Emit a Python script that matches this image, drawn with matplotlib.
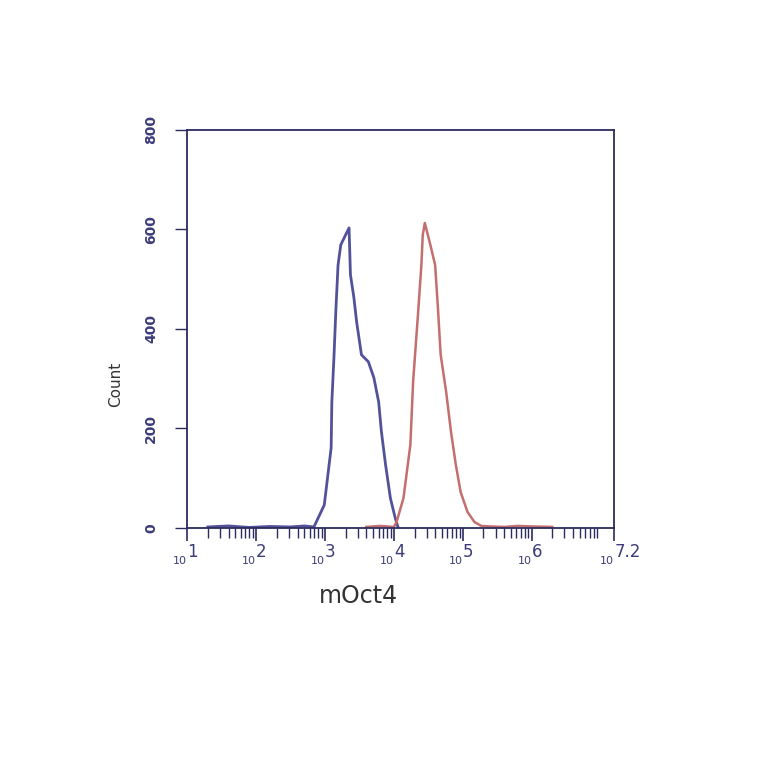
import numpy as np
import matplotlib.pyplot as plt
from matplotlib.ticker import LogLocator, NullFormatter
from matplotlib.transforms import blended_transform_factory

# histogram outlines (x in log10 units, y = count)
blue_logx = [1.3, 1.6, 1.9, 2.2, 2.5, 2.7, 2.84, 2.99, 3.09, 3.10, 3.13, 3.16, 3.19,
             3.23, 3.30, 3.35, 3.37, 3.42, 3.46, 3.53, 3.63, 3.71, 3.78, 3.82,
             3.88, 3.95, 4.02, 4.06]
blue_count = [2, 4, 1, 3, 2, 4, 2, 46, 161, 253, 341, 442, 528,
              569, 589, 603, 509, 463, 414, 348, 334, 302, 253, 193,
              127, 60, 20, 2]

red_logx = [3.6, 3.8, 4.0, 4.04, 4.14, 4.24, 4.28, 4.35, 4.40, 4.42, 4.45, 4.53,
            4.60, 4.64, 4.68, 4.76, 4.83, 4.90, 4.97, 5.07, 5.17, 5.27, 5.4,
            5.6, 5.8, 6.0, 6.3]
red_count = [2, 4, 2, 12, 60, 167, 294, 428, 528, 589, 613, 569,
             528, 442, 348, 273, 193, 127, 72, 32, 12, 4, 3,
             2, 4, 3, 2]

y_ticks = [0, 200, 400, 600, 800]
x_tick_pow = [1, 2, 3, 4, 5, 6, 7.2]
x_tick_exp = ["1", "2", "3", "4", "5", "6", "7.2"]

axis_col = "#2b2b5e"
lab_col = "#3c3c7a"

fig = plt.figure(figsize=(7.64, 7.64), dpi=100)
ax = fig.add_axes([0.245, 0.309, 0.559, 0.521])

ax.plot(10 ** np.array(blue_logx), blue_count, color="#52529a", lw=2.0)
ax.plot(10 ** np.array(red_logx), red_count, color="#c46e6e", lw=1.8)

ax.set_xscale("log")
ax.set_xlim(10 ** 1, 10 ** 7.2)
ax.set_ylim(0, 800)

ax.set_xticks([10 ** p for p in x_tick_pow])
ax.set_xticklabels([])
ax.xaxis.set_minor_locator(LogLocator(base=10, subs=np.arange(2, 10)))
ax.xaxis.set_minor_formatter(NullFormatter())
ax.tick_params(axis="x", which="major", length=9, width=1.2, colors=axis_col)
ax.tick_params(axis="x", which="minor", length=7, width=1.0, colors=axis_col)

# "10" small, exponent larger, as in the cytometry software labels
tr = blended_transform_factory(ax.transData, ax.transAxes)
for p, e in zip(x_tick_pow, x_tick_exp):
    ax.text(10 ** p, -0.082, "10", transform=tr, ha="right", va="center",
            fontsize=8, color=lab_col)
    ax.text(10 ** p, -0.060, e, transform=tr, ha="left", va="center",
            fontsize=12, color=lab_col)

ax.set_yticks(y_ticks)
ax.set_yticklabels([str(v) for v in y_ticks], rotation=90, va="center",
                   fontsize=10, fontweight="bold", color=lab_col)
ax.tick_params(axis="y", length=9, width=1.0, colors=axis_col, labelcolor=lab_col, pad=12)

for s in ax.spines.values():
    s.set_color(axis_col)
    s.set_linewidth(1.3)

ax.set_xlabel("mOct4", fontsize=17, color="#333333")
ax.xaxis.set_label_coords(0.40, -0.14)
ax.set_ylabel("Count", fontsize=11, color="#333333")
ax.yaxis.set_label_coords(-0.15, 0.36)

fig.savefig("out.png", dpi=100)
